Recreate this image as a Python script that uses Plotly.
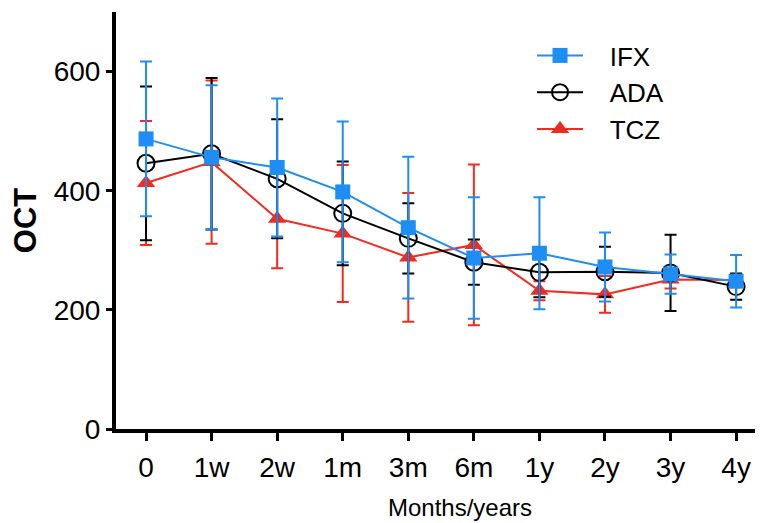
import plotly.graph_objects as go

months = ["0", "1w", "2w", "1m", "3m", "6m", "1y", "2y", "3y", "4y"]

ifx_mean = [487, 456, 439, 398, 338, 287, 295, 272, 260, 248]
ifx_sd = [130, 121, 116, 118, 119, 102, 94, 58, 33, 44]

ada_mean = [446, 462, 420, 362, 320, 280, 263, 264, 262, 239]
ada_sd = [129, 127, 100, 87, 59, 38, 42, 42, 64, 22]

tcz_mean = [413, 448, 353, 328, 288, 309, 232, 226, 251, 250]
tcz_sd = [104, 137, 83, 115, 108, 135, 16, 31, 15, 10]

BLUE = "#1E8EF5"
RED = "#F52A1E"
BLACK = "#000000"

xs = list(range(len(months)))
PAD = "\u00a0\u00a0\u00a0"

fig = go.Figure()

fig.add_trace(go.Scatter(
    x=xs, y=tcz_mean, name=PAD + "TCZ", mode="lines+markers",
    line=dict(color=RED, width=2),
    marker=dict(symbol="triangle-up", size=16, color=RED),
    error_y=dict(type="data", array=tcz_sd, visible=True, color=RED, thickness=2, width=6),
))
fig.add_trace(go.Scatter(
    x=xs, y=ada_mean, name=PAD + "ADA", mode="lines+markers",
    line=dict(color=BLACK, width=2),
    marker=dict(symbol="circle-open", size=17, color=BLACK, line=dict(width=2, color=BLACK)),
    error_y=dict(type="data", array=ada_sd, visible=True, color=BLACK, thickness=2, width=6),
))
fig.add_trace(go.Scatter(
    x=xs, y=ifx_mean, name=PAD + "IFX", mode="lines+markers",
    line=dict(color=BLUE, width=2),
    marker=dict(symbol="square", size=15, color=BLUE),
    error_y=dict(type="data", array=ifx_sd, visible=True, color=BLUE, thickness=2, width=6),
))

FONT = "Liberation Sans, Arial, sans-serif"

fig.update_layout(
    width=755, height=515,
    margin=dict(l=108, r=0, t=4, b=94, autoexpand=False),
    paper_bgcolor="white", plot_bgcolor="white",
    font=dict(family=FONT, color="black"),
    showlegend=True,
    legend=dict(
        x=0.643, y=0.952, xanchor="left", yanchor="top",
        traceorder="reversed",
        font=dict(size=26, family=FONT),
        bgcolor="rgba(0,0,0,0)",
        itemwidth=46,
        tracegroupgap=0,
    ),
    xaxis=dict(
        range=[-0.458, 9.41],
        tickmode="array", tickvals=xs, ticktext=months,
        showline=True, linecolor="black", linewidth=4,
        ticks="outside", ticklen=8, tickwidth=3, tickcolor="black",
        tickfont=dict(size=28, family=FONT),
        ticklabelstandoff=2,
        showgrid=False, zeroline=False, automargin=False,
    ),
    yaxis=dict(
        range=[0, 700],
        tickmode="array", tickvals=[0, 200, 400, 600],
        showline=True, linecolor="black", linewidth=4,
        ticks="outside", ticklen=6, tickwidth=3, tickcolor="black",
        tickfont=dict(size=28, family=FONT),
        showgrid=False, zeroline=False, automargin=False,
        title=dict(text="<b>OCT</b>", font=dict(size=31, family=FONT), standoff=13),
    ),
    annotations=[dict(
        text="Months/years", xref="paper", yref="paper",
        x=0.532, y=0, xanchor="center", yanchor="top", yshift=-63,
        showarrow=False, font=dict(size=24, family=FONT, color="black"),
    )],
)

fig.write_html("out.html")
